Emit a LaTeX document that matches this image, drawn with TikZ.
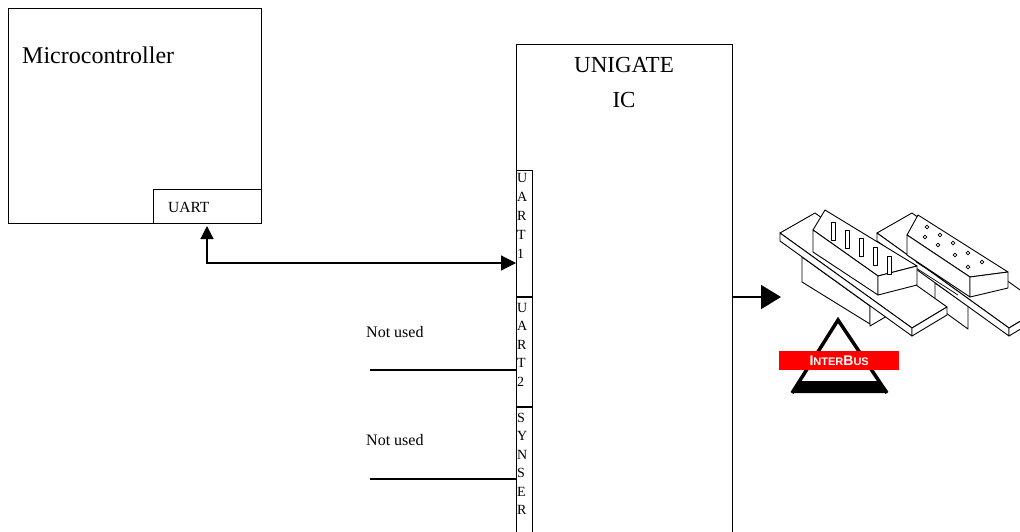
\documentclass[tikz,border=0pt]{standalone}
\usepackage{fontspec}
\setmainfont{Liberation Serif}
\newfontfamily\logofont{Liberation Sans}
\usetikzlibrary{calc,positioning,arrows.meta}

\tikzset{
  box/.style={draw, line width=1pt, anchor=north west, inner sep=0pt, outer sep=0pt},
  vtext/.style={anchor=north west, align=left, inner sep=0pt},
  lbl/.style={anchor=west, inner sep=0pt, font=\fontsize{16}{18}\selectfont},
  wire/.style={line width=1.2pt},
  art/.style={line width=0.9pt, line join=round, fill=white},
}

\begin{document}
\begin{tikzpicture}[x=1pt,y=-1pt]
\useasboundingbox (0,0) rectangle (1020,531);

\node [box, minimum width=253pt, minimum height=215pt] (mcu) at (8,8) {};
\node [lbl, font=\fontsize{24}{28}\selectfont] (mcutitle) at (22,55) {Microcontroller};
\node [box, minimum width=108pt, minimum height=34pt] (uart) at (153,189) {};
\node [lbl, font=\fontsize{15.5}{18}\selectfont] (uarttext) at (168,207) {UART};

\node [box, minimum width=216pt, minimum height=520pt] (unigate) at (516,44) {};
\node [anchor=north, align=center, inner sep=0pt, font=\fontsize{23}{35}\selectfont] (ugtitle) at (624,57) {UNIGATE\\IC};

\node [box, minimum width=16pt, minimum height=127pt] (uartone) at (516,170) {};
\node [box, minimum width=16pt, minimum height=110pt] (uarttwo) at (516,297) {};
\node [box, minimum width=16pt, minimum height=140pt] (synser) at (516,407) {};
\draw [line width=2pt] (uartone.south west) -- ($(uartone.south east)+(1,0)$);
\draw [line width=2pt] (uarttwo.south west) -- ($(uarttwo.south east)+(1,0)$);
\node [vtext, font=\fontsize{14}{19}\selectfont] (uartonetext) at (517,173) {U\\A\\R\\T\\1};
\node [vtext, font=\fontsize{14}{18.5}\selectfont] (uarttwotext) at (517,303) {U\\A\\R\\T\\2};
\node [vtext, font=\fontsize{14}{18.5}\selectfont] (synsertext) at (517,413) {S\\Y\\N\\S\\E\\R};

\coordinate (bend) at (207,263);
\draw [wire, shorten <=3pt, {Triangle[length=13pt,width=13pt]}-{Triangle[length=15pt,width=15pt]}]
  (uart.south) |- (uartone.west |- bend);

\node [lbl] (unusedA) at (366,332) {Not used};
\node [lbl] (unusedB) at (366,440) {Not used};
\coordinate (freeA) at (370,370);
\coordinate (freeB) at (370,479);
\draw [wire] (freeA) -- (freeA -| uarttwo.west);
\draw [wire] (freeB) -- (freeB -| synser.west);

\coordinate (plug) at (781,297);
\draw [line width=2pt, -{Triangle[length=20pt,width=24pt]}] (unigate.east |- plug) -- (plug);

% female connector
\draw [art] (935,283) -- (935,305) -- (968,329) -- (968,306) -- cycle;
\draw [art] (877,233) -- (912,213) -- (1044,307) -- (1009,328) -- cycle;
\draw [art] (877,233) -- (1009,328) -- (1009,336) -- (877,241) -- cycle;
\draw [art] (1009,328) -- (1044,307) -- (1044,315) -- (1009,336) -- cycle;
\draw [line width=0.7pt] (916,262) -- (962,291) (916,268) -- (958,295);
\draw [art] (907,235) -- (918,215) -- (1008,272) -- (970,277) -- cycle;
\draw [art] (907,235) -- (970,277) -- (970,297) -- (907,255) -- cycle;
\draw [art] (970,277) -- (1008,272) -- (1008,288) -- (970,297) -- cycle;
\foreach \hx/\hy in {927/227,940/235,953/243,968/253,982/262,925/237,938/245,955/255,968/267}
  \draw [line width=0.7pt] (\hx,\hy) circle (1.8);

% male connector
\draw [art] (802,257) -- (802,282) -- (870,324) -- (870,306) -- cycle;
\draw [art] (870,306) -- (870,326) -- (887,316) -- (887,298) -- cycle;
\draw [art] (780,233) -- (815,213) -- (947,307) -- (912,328) -- cycle;
\draw [art] (780,233) -- (912,328) -- (912,336) -- (780,241) -- cycle;
\draw [art] (912,328) -- (947,307) -- (947,315) -- (912,336) -- cycle;
\draw [art] (813,230) -- (825,210) -- (917,266) -- (878,276) -- cycle;
\draw [art] (813,230) -- (878,276) -- (878,295) -- (813,252) -- cycle;
\draw [art] (878,276) -- (917,266) -- (917,285) -- (878,295) -- cycle;
\foreach \px/\py in {833/222,847/230,861/238,875/247,889/256}
  \draw [art, line width=0.8pt] (\px-2,\py) rectangle (\px+2,\py+18);

% logo
\fill (792,393) -- (887,393) -- (880,381) -- (799,381) -- cycle;
\draw [line width=3.5pt] (792,393) -- (838,320) -- (887,393);
\node [fill=red, anchor=north west, minimum width=120pt, minimum height=19pt, inner sep=0pt,
  text=white, font=\logofont\bfseries] (ibus) at (779,351)
  {\fontsize{14}{14}\selectfont I\fontsize{11}{11}\selectfont NTER\fontsize{14}{14}\selectfont B\fontsize{11}{11}\selectfont US};

\end{tikzpicture}
\end{document}
